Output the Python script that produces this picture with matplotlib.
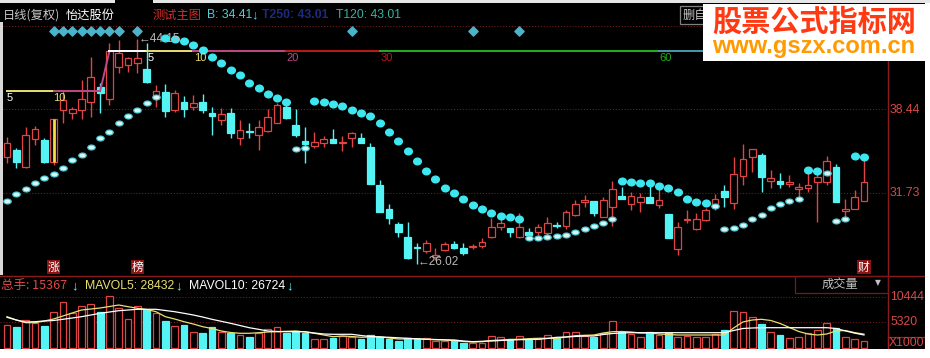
import numpy as np
import matplotlib
matplotlib.use('Agg')
import matplotlib.pyplot as plt
from matplotlib.patches import Rectangle
from matplotlib.lines import Line2D
from matplotlib.markers import MarkerStyle
from matplotlib.transforms import Affine2D, blended_transform_factory

# ---------------- data ----------------
opens = [34.61, 35.17, 33.80, 36.06, 35.98, 34.21, 38.40, 38.16, 38.40, 39.04,
         40.25, 39.29, 41.87, 42.03, 42.19, 41.71, 39.45, 39.85, 38.40, 39.04,
         38.64, 39.04, 38.16, 37.59, 38.16, 36.14, 36.71, 36.38, 36.71, 37.35,
         38.64, 37.19, 35.90, 35.50, 35.74, 36.06, 35.74, 36.14, 36.14, 35.41,
         32.35, 30.41, 29.21, 28.16, 27.35, 27.03, 26.54, 27.11, 27.60, 27.27,
         27.35, 27.43, 28.16, 28.96, 28.88, 28.16, 28.56, 28.56, 28.48, 29.13,
         29.05, 29.93, 31.00, 31.06, 29.77, 30.58, 31.46, 30.82, 30.98, 31.38,
         30.74, 30.01, 27.19, 29.53, 28.80, 29.53, 30.58, 31.87, 30.90, 33.08,
         34.61, 34.77, 32.67, 32.67, 32.43, 32.03, 32.11, 32.59, 32.59, 33.80,
         30.25, 30.42, 31.06]
highs = [36.22, 35.33, 37.03, 37.11, 36.14, 37.67, 40.01, 38.64, 40.82, 42.67,
         40.58, 43.80, 44.04, 42.67, 44.15, 43.80, 40.42, 40.50, 40.01, 39.53,
         39.61, 39.69, 38.64, 38.56, 38.56, 37.59, 37.35, 37.59, 38.48, 38.96,
         38.80, 38.48, 37.03, 36.63, 36.30, 36.87, 36.30, 36.63, 36.55, 35.74,
         32.75, 30.82, 29.37, 29.37, 27.68, 27.92, 27.27, 27.76, 27.84, 27.68,
         27.60, 28.08, 29.69, 29.61, 28.88, 30.09, 28.88, 29.21, 29.77, 29.37,
         30.33, 31.14, 31.54, 31.06, 31.38, 32.67, 32.19, 31.79, 31.71, 32.35,
         32.19, 30.01, 29.37, 30.33, 30.09, 30.50, 31.62, 32.35, 34.61, 35.66,
         35.25, 34.93, 33.56, 33.32, 33.16, 32.51, 33.56, 33.40, 34.69, 34.04,
         31.22, 31.95, 34.61]
lows = [34.13, 33.72, 33.72, 35.58, 34.13, 33.97, 37.35, 37.67, 37.67, 37.84,
        38.16, 38.80, 41.38, 41.46, 41.38, 40.58, 38.64, 37.84, 38.24, 37.84,
        38.40, 38.16, 36.38, 37.19, 36.14, 35.58, 36.14, 35.17, 36.63, 37.35,
        37.67, 36.22, 34.13, 35.33, 35.41, 35.74, 35.09, 35.41, 35.74, 32.43,
        30.17, 29.21, 28.16, 26.38, 26.02, 26.87, 26.30, 27.03, 27.19, 26.71,
        27.19, 27.27, 28.08, 28.72, 28.16, 28.08, 28.32, 28.32, 28.32, 28.88,
        28.80, 29.85, 30.58, 29.85, 29.77, 29.05, 31.22, 30.33, 30.17, 30.90,
        30.50, 28.08, 26.71, 29.29, 28.72, 29.45, 30.33, 30.58, 30.42, 32.35,
        33.40, 31.79, 32.11, 32.11, 32.19, 31.38, 31.79, 29.37, 32.35, 30.98,
        29.53, 30.42, 31.06]
closes = [35.74, 34.21, 36.38, 36.87, 34.21, 37.67, 39.21, 38.48, 39.29, 41.06,
          39.77, 43.16, 43.00, 42.59, 42.59, 40.66, 39.93, 38.32, 39.77, 38.48,
          38.96, 38.40, 37.92, 38.08, 36.55, 36.79, 36.63, 37.03, 37.84, 38.80,
          37.75, 36.38, 35.66, 35.82, 36.06, 35.74, 35.82, 36.55, 35.74, 32.43,
          30.17, 29.69, 28.56, 26.46, 27.27, 27.68, 26.71, 27.60, 27.27, 26.87,
          27.47, 27.76, 28.96, 29.29, 28.56, 28.96, 28.32, 28.96, 29.29, 29.05,
          30.17, 30.82, 31.14, 30.09, 31.14, 32.03, 31.22, 31.46, 31.38, 30.90,
          31.14, 28.08, 28.96, 29.61, 29.61, 30.33, 31.22, 31.38, 33.24, 34.45,
          35.25, 33.00, 32.91, 32.43, 32.59, 32.19, 32.35, 33.00, 34.29, 30.98,
          30.41, 31.38, 32.59]
volumes = [4715, 4370, 5740, 5060, 4510, 7310, 9360, 7110, 8610, 9020,
           7310, 10660, 8130, 5880, 8610, 7790, 7240, 5535, 4510, 4715,
           3210, 3140, 4240, 3350, 3140, 2665, 2190, 3140, 3830, 4240,
           3010, 3555, 3010, 1845, 1845, 2120, 2530, 2325, 1780, 2665,
           2325, 1780, 1435, 1980, 1780, 1980, 1435, 1435, 1640, 1090,
           1090, 1090, 2460, 2190, 1780, 2460, 1780, 1845, 2600, 1980,
           3210, 3210, 2460, 2325, 3010, 5535, 3350, 2870, 2325, 3350,
           2665, 3140, 2325, 2460, 2325, 2325, 2870, 3690, 7585, 7310,
           6290, 4920, 3210, 2665, 2120, 2325, 3140, 3690, 5190, 4030,
           2190, 1845, 1537]
mavol5 = [6417, 5740, 5187, 5187, 5535, 5945, 6560, 7175, 7790, 7995,
          8200, 8508, 8815, 8467, 8139, 7893, 7442, 6417, 5945, 5392,
          4920, 4367, 3998, 3485, 3178, 3014, 3014, 3137, 3280, 3342,
          3424, 3485, 3280, 3014, 2665, 2317, 2460, 2358, 2194, 2255,
          2317, 2050, 1845, 1845, 1907, 1784, 1702, 1640, 1497, 1333,
          1230, 1292, 1538, 1640, 1743, 1784, 1907, 1989, 1989, 1989,
          2255, 2522, 2604, 2665, 3075, 3342, 3383, 3280, 3075, 3075,
          2870, 2768, 2665, 2665, 2665, 2665, 2665, 2665, 4100, 5330,
          5740, 5884, 5638, 5023, 4203, 3383, 2870, 2665, 2870, 3485,
          3588, 3150, 2843]
mavol10 = [6294, 5740, 5330, 5392, 5535, 5638, 5884, 6150, 6417, 6765,
           7114, 7380, 7647, 7790, 7934, 7934, 7934, 7688, 7442, 7114,
           6765, 6355, 5884, 5474, 5064, 4613, 4162, 3834, 3485, 3383,
           3342, 3342, 3342, 3075, 2870, 2809, 2809, 2809, 2563, 2358,
           2255, 2194, 2091, 1989, 1886, 1784, 1743, 1681, 1640, 1435,
           1292, 1374, 1435, 1538, 1640, 1702, 1743, 1784, 1948, 2194,
           2255, 2358, 2460, 2460, 2768, 2973, 3075, 3137, 3137, 3137,
           3137, 3137, 3137, 3137, 3137, 3137, 3137, 3137, 3588, 3998,
           4100, 4162, 4162, 4162, 4162, 4162, 4162, 4162, 4162, 3998,
           3500, 3050, 2672]
nan = np.nan
sar_above = [nan]*17 + [44.21, 44.13, 43.96, 43.64, 43.24, 42.67, 42.19, 41.63,
             41.22, 40.54, 40.17, 39.69, 39.37, 39.04] + [nan, nan] + \
            [39.13, 39.04, 38.88, 38.72, 38.40, 38.16, 37.92, 37.35, 36.63, 35.90,
             35.09, 34.29, 33.48, 32.84, 32.11, 31.71, 31.22, 30.74, 30.42, 30.09,
             29.85, 29.77, 29.61] + [nan]*10 + \
            [32.67, 32.59, 32.51, 32.51, 32.27, 32.11, 31.79, 31.22, 30.98, 30.90] + \
            [nan]*10 + [33.56, 33.48] + [nan]*3 + [34.69, 34.61]
sar_below = [31.06, 31.63, 32.03, 32.51, 32.92, 33.24, 33.72, 34.37, 34.77, 35.42,
             36.14, 36.63, 37.35, 37.92, 38.40, 38.96, 39.45] + [nan]*14 + \
            [35.26, 35.34] + [nan]*23 + \
            [28.08, 28.08, 28.16, 28.24, 28.32, 28.56, 28.80, 29.05, 29.29, 29.61] + \
            [nan]*10 + \
            [30.66, 28.80, 28.88, 29.13, 29.61, 29.93, 30.50, 30.82, 31.06, 31.22] + \
            [nan, nan] + [33.32, 29.45, 29.61] + [nan, nan]
signal_days = [6, 7, 8, 9, 10, 11, 12, 13, 15, 38, 51, 56]
level_low = 39.93
level_high = 43.16
level_breaks = [12, 16, 21, 31, 41, 71]
level_labels = ['5', '10', '20', '30', '60']
grid_prices = [45.15, 38.44, 31.73]
grid_vols = [10444, 5320]
limit_up_days = [6]

# ---------------- layout ----------------
W, H = 930, 358
fig = plt.figure(figsize=(9.3, 3.58), dpi=100, facecolor='black')

def fx(x):
    return x / W

def fy(y):
    return 1 - y / H

RED = '#e04444'
CYAN = '#54f4f4'
N = len(closes)
idx = np.arange(1, N + 1)

# price panel: pixel rows 3..275
PX_PER_UNIT = 12.4
def price_at(ypix):
    return 38.44 - (ypix - 109.5) / PX_PER_UNIT

SP = 9.315
xl = (1 - 7 / SP, 1 + 880 / SP)
ax = fig.add_axes([0, fy(275), 887 / W, 272 / H])
ax.set_xlim(*xl)
ax.set_ylim(price_at(275), price_at(3))
ax.set_axis_off()
ax.patch.set_alpha(0)

axv = fig.add_axes([0, fy(349), 887 / W, 73 / H])
axv.set_xlim(*xl)
axv.set_ylim(-205, 72 * 205)
axv.set_axis_off()
axv.patch.set_alpha(0)

dot = (0, (1, 1.6))
for g in grid_prices:
    ax.axhline(g, color='#6e1a1a', lw=0.8, ls=dot, zorder=1)
for g in grid_vols:
    axv.axhline(g, color='#6e1a1a', lw=0.8, ls=dot, zorder=1)

o = np.array(opens); c = np.array(closes); hi = np.array(highs); lo = np.array(lows)
up = c >= o
body_h = np.maximum(np.abs(c - o), 0.07)
body_b = np.minimum(o, c)
cols = np.where(up, RED, CYAN)
ax.vlines(idx, lo, hi, colors=cols, lw=1.0, zorder=2)
ax.bar(idx[up], body_h[up], bottom=body_b[up], width=0.72,
       facecolor='black', edgecolor=RED, lw=0.9, zorder=3)
ax.bar(idx[~up], body_h[~up], bottom=body_b[~up], width=0.72,
       facecolor=CYAN, edgecolor=CYAN, lw=0.9, zorder=3)
for d in limit_up_days:
    ax.vlines(d, opens[d - 1], closes[d - 1], colors='#f0e040', lw=2.0, zorder=4)

# SAR-like dots
m_up = MarkerStyle('o', transform=Affine2D().scale(1.15, 1.0))
m_dn = MarkerStyle('o', transform=Affine2D().scale(1.35, 0.9))
ax.plot(idx, sar_above, ls='none', marker=m_up, ms=4.8, color='#3ee6f0',
        mec='#3ee6f0', zorder=5)
ax.plot(idx, sar_below, ls='none', marker=m_dn, ms=4.0, mfc='#d6f6f6',
        mec='#46c8d4', mew=0.8, zorder=5)

# signal diamonds row
bt = blended_transform_factory(ax.transData, ax.transAxes)
ax.scatter(signal_days, [(275 - 31) / 272] * len(signal_days), transform=bt,
           marker='D', s=22, color='#4ab4cc', zorder=5)

# stepped level lines
ax.plot([1, 6], [level_low] * 2, color='#e8e070', lw=1.4, zorder=4)
ax.plot([6, 11], [level_low] * 2, color='#c04888', lw=1.4, zorder=4)
ax.plot([11, 12], [level_low, level_high], color='#c04888', lw=1.4, zorder=4)
seg_cols = ['#ffffff', '#e8e070', '#c04888', '#c01818', '#20b020', '#4898a8']
ends = level_breaks[1:] + [xl[1]]
for s, e, col in zip(level_breaks, ends, seg_cols):
    ax.plot([s, e], [level_high] * 2, color=col, lw=1.4, zorder=4)
lab_cols = ['#ffffff', '#e8e070', '#c04888', '#c01818', '#20b020']
fnum = ['Liberation Sans', 'DejaVu Sans']
for pos, lab, col in zip(level_breaks[1:], level_labels, lab_cols):
    ax.text(pos + 0.05, level_high - 0.15, lab, color=col, fontsize=8,
            family=fnum, ha='left', va='top', zorder=6)
ax.text(1 - 0.05, level_low - 0.15, '5', color='white', fontsize=8,
        family=fnum, ha='left', va='top', zorder=6)
ax.text(6 - 0.05, level_low - 0.15, '10', color='#e8e070', fontsize=8,
        family=fnum, ha='left', va='top', zorder=6)

# extreme labels
hi_i = int(np.argmax(hi)); lo_i = int(np.argmin(lo))
ax.text(idx[hi_i] + 0.1, hi[hi_i], '\u2190' + f'{hi[hi_i]:.2f}', color='#b8b8b8',
        fontsize=8.5, family=fnum, ha='left', va='center', zorder=6)
ax.text(idx[lo_i] + 0.1, lo[lo_i] + 0.1, '\u2190' + f'{lo[lo_i]:.2f}', color='#b8b8b8',
        fontsize=8.5, family=fnum, ha='left', va='center', zorder=6)

# volume bars
v = np.array(volumes)
axv.bar(idx[up], v[up], width=0.72, facecolor='black', edgecolor=RED, lw=0.9, zorder=2)
axv.bar(idx[~up], v[~up], width=0.72, facecolor=CYAN, edgecolor=CYAN, lw=0.9, zorder=2)
axv.plot(idx, mavol5, color='#e8e070', lw=0.9, zorder=3)
axv.plot(idx, mavol10, color='white', lw=0.9, zorder=3)

# ---------------- frame pieces ----------------
def frect(x0, y0, x1, y1, fc='none', ec='none', lw=1.0, z=8):
    fig.patches.append(Rectangle((fx(x0), fy(y1)), (x1 - x0) / W, (y1 - y0) / H,
                                 transform=fig.transFigure, facecolor=fc,
                                 edgecolor=ec, lw=lw, zorder=z))

def fline(x0, y0, x1, y1, col, lw=1.0, z=7):
    fig.lines.append(Line2D([fx(x0), fx(x1)], [fy(y0), fy(y1)],
                            transform=fig.transFigure, color=col, lw=lw, zorder=z))

fline(0, 275.5, 925, 275.5, '#8a1c1c', lw=1.0)
fline(887.5, 20, 887.5, 349, '#8a1c1c', lw=1.0)
frect(795, 275.5, 887.5, 293, ec='#7a1818', lw=0.9, z=7)
frect(887.5, 337, 925, 349, ec='#a02020', lw=0.9, z=7)

# white borders
frect(0, 349, 930, 358, fc='white', z=9)
frect(925, 0, 930, 358, fc='white', z=9)
frect(0, 0, 115, 3, fc='#e6e6e6', z=9)
frect(153, 0, 930, 3, fc='#e6e6e6', z=9)
frect(0, 22, 2.5, 275, fc='#d8d8d8', z=9)

def T(x, y, s, col, size=8.8, fam=None, ha='left', weight='normal', z=8, **kw):
    fam = fam or ['Noto Sans CJK SC', 'DejaVu Sans']
    fig.text(fx(x), fy(y), s, color=col, fontsize=size, family=fam, ha=ha,
             va='center', weight=weight, zorder=z, **kw)

# header
T(3, 15, '日线(复权)', '#c8c8c8')
T(66, 15, '怡达股份', '#ffffff')
T(153, 15, '测试主图', '#d42a2a')
T(207, 15, 'B: 34.41', '#4cd0d8', size=8.8, fam=fnum)
T(251, 15, '\u2193', '#4cd0d8', size=9.5, fam=fnum, weight='bold')
T(262, 15, 'T250: 43.01', '#1e2a80', size=8.8, fam=fnum, weight='bold')
T(336, 15, 'T120: 43.01', '#3cb0a0', size=8.8, fam=fnum)
frect(680, 6, 712, 24, ec='#808080', lw=0.9, z=7)
T(683, 15, '删自', '#c8c8c8')

# watermark
frect(703, 4, 925, 61, fc='white', z=10)
T(814, 22, '股票公式指标网', '#ff3a12', size=21, weight='bold', ha='center', z=11)
T(814, 47, 'www.gszx.com.cn', '#ff9a00', size=17,
  fam=['Liberation Sans', 'DejaVu Sans'], weight='bold', ha='center', z=11)

# right axis labels
RL = '#d84848'
T(890, 109.5, '38.44', RL, size=8.8, fam=fnum)
T(890, 192.7, '31.73', RL, size=8.8, fam=fnum)
T(890, 297, '10444', RL, size=8.8, fam=fnum)
T(890, 322, '5320', RL, size=8.8, fam=fnum)
T(889, 343, 'X1000', RL, size=8.8, fam=fnum)

# event tags
box = dict(boxstyle='square,pad=0.08', facecolor='#8e1414', edgecolor='none')
for day, ch in [(6, '涨'), (15, '榜'), (93, '财')]:
    ax.text(day, (275 - 267) / 272, ch, transform=bt, color='white', fontsize=8.5,
            family=['Noto Sans CJK SC', 'DejaVu Sans'], ha='center', va='center',
            bbox=box, zorder=6)

# volume header
T(0.5, 286, '总手: 15367', '#e04848', size=9.0)
T(71, 286, '\u2193', CYAN, size=9.5, fam=fnum, weight='bold')
T(85, 286, 'MAVOL5: 28432', '#e8e070', size=8.8, fam=fnum)
T(175, 286, '\u2193', CYAN, size=9.5, fam=fnum, weight='bold')
T(189, 286, 'MAVOL10: 26724', '#ffffff', size=8.8, fam=fnum)
T(286, 286, '\u2193', CYAN, size=9.5, fam=fnum, weight='bold')
T(840, 284, '成交量', '#c0c0c0', size=8.8, ha='center')
T(878, 283, '\u25bc', '#c0c0c0', size=5.5, fam=['DejaVu Sans'], ha='center')

fig.savefig('out.png', dpi=100, facecolor='black')
